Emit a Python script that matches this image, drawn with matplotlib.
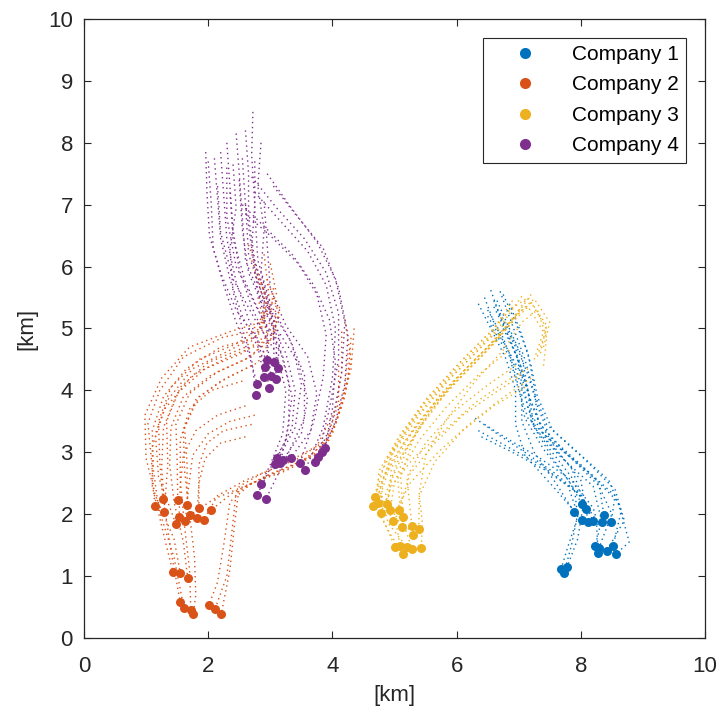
import matplotlib
matplotlib.use("Agg")
import matplotlib.pyplot as plt
from matplotlib.lines import Line2D

plt.rcParams['font.family'] = ['Liberation Sans', 'DejaVu Sans']

COMPANIES = ["Company 1", "Company 2", "Company 3", "Company 4"]
COLORS = ["#0072BD", "#D95319", "#EDB120", "#7E2F8E"]

# final positions of each vehicle [km]
C1_END_X = [7.89, 8.02, 8.08, 8.02, 8.12, 8.20, 8.34, 8.37, 8.49, 8.23, 8.29, 8.28, 8.42, 8.52, 8.57, 7.68, 7.78, 7.73]
C1_END_Y = [2.04, 2.16, 2.08, 1.91, 1.87, 1.89, 1.87, 1.99, 1.87, 1.49, 1.45, 1.37, 1.41, 1.49, 1.36, 1.11, 1.15, 1.05]

C2_END_X = [1.14, 1.27, 1.29, 1.51, 1.66, 1.85, 2.05, 1.48, 1.53, 1.63, 1.71, 1.82, 1.93,
            1.43, 1.55, 1.67, 1.55, 1.61, 1.72, 1.76, 2.01, 2.11, 2.21]
C2_END_Y = [2.13, 2.25, 2.04, 2.23, 2.15, 2.10, 2.07, 1.84, 1.95, 1.89, 1.99, 1.94, 1.91,
            1.07, 1.05, 0.97, 0.58, 0.48, 0.45, 0.39, 0.53, 0.47, 0.39]

C3_END_X = [4.69, 4.73, 4.65, 4.78, 4.88, 4.93, 5.07, 4.98, 5.14, 5.12, 5.28, 5.39, 5.30, 5.01, 5.09, 5.20, 5.28, 5.43, 5.14]
C3_END_Y = [2.28, 2.18, 2.13, 2.02, 2.16, 2.07, 2.07, 1.89, 1.95, 1.79, 1.81, 1.76, 1.66, 1.47, 1.49, 1.47, 1.44, 1.45, 1.36]

C4_END_X = [2.95, 3.06, 2.91, 3.12, 2.90, 3.01, 3.09, 2.79, 2.98, 2.77, 3.11, 3.16, 3.08, 3.20,
            3.33, 3.48, 3.56, 3.72, 3.77, 3.83, 3.88, 2.85, 2.79, 2.93]
C4_END_Y = [4.49, 4.46, 4.38, 4.36, 4.22, 4.23, 4.18, 4.10, 4.04, 3.93, 2.91, 2.83, 2.81, 2.88,
            2.91, 2.83, 2.71, 2.84, 2.92, 3.00, 3.07, 2.49, 2.31, 2.25]

# recorded waypoints of each vehicle before it reaches its final position
C1_PATHS = [
    [(6.55, 5.62), (6.70, 5.20), (6.95, 4.70), (7.05, 4.10), (7.05, 3.50), (7.25, 3.00), (7.60, 2.50)],
    [(6.45, 5.50), (6.60, 5.10), (6.85, 4.60), (7.00, 4.05), (7.10, 3.55), (7.40, 3.05), (7.80, 2.55)],
    [(6.65, 5.45), (6.85, 5.00), (7.05, 4.55), (7.15, 4.00), (7.20, 3.50), (7.50, 3.05), (7.85, 2.60)],
    [(6.35, 5.40), (6.55, 5.00), (6.80, 4.50), (6.95, 4.00), (6.95, 3.45), (7.10, 2.95), (7.55, 2.45)],
    [(6.75, 5.55), (6.95, 5.10), (7.15, 4.60), (7.25, 4.05), (7.30, 3.55), (7.60, 3.05), (8.00, 2.55)],
    [(6.30, 3.55), (6.65, 3.30), (7.10, 3.00), (7.60, 2.65), (8.00, 2.30)],
    [(6.50, 5.30), (6.75, 4.85), (6.95, 4.35), (7.10, 3.90), (7.25, 3.40), (7.65, 2.95), (8.20, 2.45)],
    [(6.60, 5.35), (6.85, 4.85), (7.05, 4.35), (7.20, 3.80), (7.40, 3.30), (7.85, 2.90), (8.30, 2.45)],
    [(6.70, 5.25), (6.95, 4.75), (7.15, 4.25), (7.30, 3.75), (7.50, 3.25), (8.00, 2.80), (8.55, 2.30)],
    [(6.45, 3.45), (6.85, 3.20), (7.35, 2.90), (7.85, 2.55), (8.20, 2.10), (8.30, 1.75)],
    [(6.60, 5.45), (6.80, 4.95), (7.00, 4.45), (7.15, 3.95), (7.35, 3.45), (7.75, 3.00), (8.25, 2.55), (8.50, 2.00)],
    [(6.40, 3.25), (6.90, 3.00), (7.45, 2.70), (7.95, 2.35), (8.25, 1.90)],
    [(6.85, 5.40), (7.05, 4.90), (7.20, 4.40), (7.30, 3.90), (7.55, 3.35), (8.05, 2.90), (8.55, 2.40), (8.70, 1.90)],
    [(6.70, 5.60), (6.90, 5.05), (7.10, 4.50), (7.25, 3.95), (7.45, 3.45), (7.95, 3.00), (8.45, 2.55), (8.65, 2.05)],
    [(6.55, 5.05), (6.85, 4.55), (7.00, 4.00), (7.15, 3.55), (7.55, 3.15), (8.10, 2.70), (8.60, 2.20), (8.78, 1.55)],
    [(6.75, 5.00), (7.00, 4.50), (7.15, 4.00), (7.25, 3.40), (7.55, 2.90), (7.90, 2.40), (7.95, 1.95), (7.80, 1.50)],
    [(6.50, 5.20), (6.80, 4.70), (7.05, 4.25), (7.15, 3.70), (7.45, 3.20), (7.85, 2.75), (8.05, 2.20), (7.95, 1.60)],
    [(6.35, 3.35), (6.80, 3.10), (7.35, 2.80), (7.80, 2.45), (7.95, 2.00), (7.85, 1.50)],
]

C2_PATHS = [
    [(2.75, 5.90), (2.95, 5.30), (2.70, 4.95), (2.24, 4.86), (1.60, 4.54), (1.22, 4.00), (1.03, 3.47), (1.09, 2.83)],
    [(2.65, 6.35), (2.90, 5.60), (2.90, 5.05), (2.45, 4.75), (1.85, 4.50), (1.40, 4.05), (1.20, 3.50), (1.22, 2.85)],
    [(3.05, 5.65), (3.00, 5.10), (2.60, 4.70), (2.00, 4.45), (1.55, 4.05), (1.33, 3.50), (1.35, 2.80)],
    [(3.10, 5.45), (3.05, 4.95), (2.70, 4.55), (2.15, 4.30), (1.70, 3.95), (1.48, 3.45), (1.50, 2.85)],
    [(2.85, 5.75), (3.10, 5.00), (2.80, 4.45), (2.30, 4.20), (1.85, 3.90), (1.62, 3.40), (1.66, 2.80)],
    [(2.70, 3.45), (2.25, 3.35), (1.98, 3.15), (1.85, 2.80), (1.85, 2.40)],
    [(4.20, 5.15), (4.30, 4.50), (4.20, 3.90), (4.00, 3.30), (3.60, 2.90), (3.00, 2.65), (2.40, 2.35)],
    [(2.70, 6.10), (2.95, 5.45), (2.80, 4.90), (2.35, 4.65), (1.75, 4.35), (1.35, 3.85), (1.15, 3.30), (1.20, 2.60)],
    [(2.60, 3.75), (2.15, 3.60), (1.80, 3.35), (1.60, 2.95), (1.55, 2.45)],
    [(2.75, 3.60), (2.35, 3.50), (2.00, 3.30), (1.75, 2.95), (1.68, 2.40)],
    [(4.30, 4.85), (4.25, 4.20), (4.10, 3.60), (3.85, 3.05), (3.30, 2.75), (2.70, 2.50), (2.10, 2.25)],
    [(2.60, 3.25), (2.20, 3.15), (1.95, 2.90), (1.85, 2.50)],
    [(4.15, 4.95), (4.15, 4.30), (4.05, 3.70), (3.75, 3.10), (3.20, 2.80), (2.60, 2.55), (2.15, 2.30)],
    [(2.95, 5.80), (3.15, 5.20), (2.85, 4.75), (2.35, 4.55), (1.75, 4.25), (1.30, 3.70), (1.10, 3.10), (1.10, 2.45), (1.30, 1.60)],
    [(3.00, 6.05), (3.10, 5.55), (2.85, 5.10), (2.35, 4.95), (1.70, 4.70), (1.25, 4.20), (0.98, 3.60), (1.00, 2.90), (1.15, 2.30), (1.45, 1.60)],
    [(3.15, 5.35), (3.05, 4.85), (2.60, 4.50), (2.05, 4.25), (1.60, 3.90), (1.40, 3.40), (1.38, 2.80), (1.45, 2.20), (1.60, 1.55)],
    [(2.80, 5.50), (2.95, 4.90), (2.55, 4.60), (1.95, 4.35), (1.50, 3.95), (1.28, 3.40), (1.25, 2.75), (1.30, 2.10), (1.40, 1.40)],
    [(2.90, 6.20), (3.00, 5.35), (2.75, 4.85), (2.20, 4.70), (1.65, 4.35), (1.28, 3.90), (1.10, 3.35), (1.12, 2.70), (1.20, 2.10), (1.45, 1.30)],
    [(2.55, 4.15), (2.05, 4.00), (1.70, 3.70), (1.55, 3.20), (1.55, 2.55), (1.62, 1.80), (1.70, 1.10)],
    [(2.70, 4.40), (2.20, 4.15), (1.80, 3.85), (1.60, 3.35), (1.62, 2.70), (1.70, 2.00), (1.78, 1.30), (1.80, 0.70)],
    [(4.25, 4.60), (4.20, 4.05), (4.05, 3.45), (3.80, 3.00), (3.25, 2.70), (2.70, 2.50), (2.35, 2.20), (2.25, 1.50), (2.15, 0.90)],
    [(4.35, 5.00), (4.30, 4.35), (4.15, 3.75), (3.95, 3.20), (3.50, 2.85), (2.90, 2.60), (2.45, 2.35), (2.38, 1.70), (2.30, 1.00)],
    [(4.10, 4.40), (4.10, 3.80), (3.90, 3.20), (3.45, 2.90), (2.85, 2.65), (2.50, 2.45), (2.42, 1.80), (2.35, 1.10)],
]

C3_PATHS = [
    [(7.05, 5.52), (6.75, 5.10), (6.30, 4.60), (5.75, 4.05), (5.25, 3.45), (4.85, 2.85)],
    [(7.30, 4.55), (7.45, 5.00), (7.20, 5.42), (6.90, 5.15), (6.45, 4.65), (5.90, 4.10), (5.35, 3.45), (4.95, 2.85)],
    [(6.90, 5.35), (6.55, 4.95), (6.05, 4.45), (5.50, 3.85), (5.05, 3.20), (4.75, 2.60)],
    [(7.15, 4.35), (6.80, 4.15), (6.30, 3.80), (5.80, 3.35), (5.30, 2.90), (4.95, 2.45)],
    [(7.20, 5.55), (6.95, 5.20), (6.55, 4.75), (6.05, 4.25), (5.55, 3.65), (5.15, 3.00), (4.95, 2.55)],
    [(7.40, 4.70), (7.50, 5.10), (7.25, 5.48), (7.00, 5.25), (6.65, 4.80), (6.15, 4.30), (5.60, 3.70), (5.20, 3.05), (5.00, 2.50)],
    [(7.05, 4.25), (6.60, 3.95), (6.10, 3.60), (5.65, 3.15), (5.25, 2.65)],
    [(6.80, 5.10), (6.40, 4.70), (5.90, 4.20), (5.40, 3.60), (4.95, 2.95), (4.75, 2.35)],
    [(7.25, 4.50), (7.40, 4.95), (7.15, 5.35), (6.85, 5.05), (6.40, 4.55), (5.85, 4.00), (5.35, 3.35), (5.10, 2.60)],
    [(7.10, 5.45), (6.85, 5.05), (6.40, 4.55), (5.90, 4.05), (5.45, 3.45), (5.05, 2.85), (4.85, 2.30)],
    [(6.95, 4.40), (6.45, 4.05), (5.95, 3.65), (5.50, 3.15), (5.20, 2.60)],
    [(7.40, 4.40), (7.45, 4.85), (7.30, 5.30), (7.05, 5.10), (6.75, 4.65), (6.30, 4.15), (5.85, 3.55), (5.50, 2.95), (5.40, 2.35)],
    [(6.70, 4.90), (6.25, 4.45), (5.75, 3.95), (5.30, 3.35), (4.95, 2.75), (4.90, 2.20)],
    [(7.00, 5.30), (6.70, 4.90), (6.20, 4.40), (5.65, 3.80), (5.15, 3.15), (4.80, 2.55), (4.80, 1.95)],
    [(7.20, 4.20), (6.70, 3.85), (6.20, 3.45), (5.70, 3.00), (5.25, 2.50), (5.00, 2.00)],
    [(7.35, 4.60), (7.45, 5.05), (7.15, 5.50), (6.85, 5.30), (6.50, 4.85), (6.00, 4.35), (5.45, 3.75), (5.00, 3.05), (4.75, 2.40), (4.90, 1.85)],
    [(6.85, 4.65), (6.35, 4.25), (5.85, 3.75), (5.40, 3.20), (5.05, 2.60), (5.10, 2.00)],
    [(7.10, 4.05), (6.60, 3.75), (6.10, 3.35), (5.65, 2.85), (5.40, 2.30), (5.45, 1.85)],
    [(6.90, 5.45), (6.60, 5.00), (6.10, 4.50), (5.60, 3.95), (5.10, 3.30), (4.75, 2.70), (4.70, 2.10), (4.95, 1.65)],
]

C4_PATHS = [
    [(2.72, 8.50), (2.70, 7.80), (2.75, 7.00), (2.70, 6.30), (2.80, 5.60), (2.95, 5.00)],
    [(2.45, 8.15), (2.50, 7.50), (2.55, 6.80), (2.60, 6.10), (2.85, 5.50), (3.05, 5.00)],
    [(1.96, 7.85), (1.98, 7.20), (2.02, 6.50), (2.20, 5.90), (2.45, 5.30), (2.80, 4.80)],
    [(2.85, 8.00), (2.80, 7.30), (2.90, 6.60), (2.85, 5.90), (3.00, 5.30), (3.15, 4.85)],
    [(2.10, 7.75), (2.15, 7.10), (2.20, 6.45), (2.35, 5.80), (2.55, 5.20), (2.80, 4.70)],
    [(2.30, 8.00), (2.35, 7.30), (2.40, 6.60), (2.50, 5.95), (2.70, 5.35), (2.95, 4.80)],
    [(2.60, 8.20), (2.65, 7.50), (2.65, 6.80), (2.75, 6.10), (2.95, 5.45), (3.10, 4.80)],
    [(2.00, 7.70), (2.05, 7.00), (2.08, 6.30), (2.25, 5.70), (2.45, 5.10), (2.65, 4.60)],
    [(2.20, 7.85), (2.25, 7.15), (2.30, 6.45), (2.45, 5.75), (2.65, 5.15), (2.90, 4.60)],
    [(2.40, 7.65), (2.45, 6.95), (2.35, 6.30), (2.40, 5.60), (2.55, 5.00), (2.70, 4.50)],
    [(2.50, 7.40), (2.55, 6.60), (2.65, 5.90), (2.95, 5.20), (3.25, 4.60), (3.40, 4.00), (3.35, 3.40)],
    [(2.30, 7.60), (2.30, 6.80), (2.45, 6.00), (2.80, 5.30), (3.15, 4.70), (3.30, 4.10), (3.30, 3.45)],
    [(2.75, 7.70), (2.75, 6.90), (2.80, 6.10), (3.00, 5.40), (3.35, 4.75), (3.50, 4.10), (3.40, 3.40)],
    [(2.60, 7.00), (2.70, 6.30), (2.85, 5.60), (3.10, 5.00), (3.45, 4.45), (3.60, 3.85), (3.50, 3.30)],
    [(2.90, 7.05), (2.95, 6.35), (3.00, 5.65), (3.25, 5.05), (3.60, 4.55), (3.75, 3.95), (3.65, 3.35)],
    [(2.60, 6.85), (3.00, 6.50), (3.45, 6.05), (3.75, 5.55), (3.90, 4.90), (3.85, 4.20), (3.70, 3.50)],
    [(2.75, 7.20), (3.15, 6.75), (3.60, 6.25), (3.90, 5.70), (4.05, 5.00), (4.00, 4.20), (3.85, 3.40)],
    [(2.95, 7.50), (3.30, 7.00), (3.75, 6.40), (4.05, 5.80), (4.20, 5.10), (4.15, 4.30), (4.00, 3.50)],
    [(2.70, 7.45), (3.10, 6.95), (3.55, 6.45), (3.90, 5.90), (4.10, 5.25), (4.10, 4.50), (3.95, 3.70)],
    [(3.05, 7.30), (3.40, 6.85), (3.85, 6.30), (4.10, 5.65), (4.25, 4.90), (4.20, 4.10), (4.05, 3.50)],
    [(2.55, 7.00), (2.90, 6.65), (3.35, 6.20), (3.70, 5.70), (3.95, 5.15), (4.05, 4.45), (4.00, 3.70)],
    [(2.15, 7.30), (2.20, 6.55), (2.40, 5.80), (2.75, 5.15), (3.10, 4.60), (3.25, 4.00), (3.20, 3.30), (3.00, 2.80)],
    [(2.35, 7.20), (2.40, 6.45), (2.60, 5.75), (2.90, 5.10), (3.20, 4.55), (3.35, 3.90), (3.25, 3.20), (2.95, 2.65)],
    [(2.55, 7.75), (2.60, 7.00), (2.65, 6.20), (2.90, 5.45), (3.30, 4.85), (3.55, 4.25), (3.55, 3.55), (3.25, 2.90)],
]

END_X = [C1_END_X, C2_END_X, C3_END_X, C4_END_X]
END_Y = [C1_END_Y, C2_END_Y, C3_END_Y, C4_END_Y]
PATHS = [C1_PATHS, C2_PATHS, C3_PATHS, C4_PATHS]

fig = plt.figure(figsize=(7.2, 7.2), dpi=100)
ax = fig.add_axes([84 / 720, 82 / 720, 621 / 720, 619 / 720])

# dotted tracks, each ending at the vehicle's final position
for paths, xs, ys, color in zip(PATHS, END_X, END_Y, COLORS):
    for path, xe, ye in zip(paths, xs, ys):
        px = [p[0] for p in path] + [xe]
        py = [p[1] for p in path] + [ye]
        ax.plot(px, py, color=color, lw=1.0, linestyle=(0, (1, 2.6)), zorder=2)

for xs, ys, color in zip(END_X, END_Y, COLORS):
    ax.plot(xs, ys, linestyle="none", marker="o", markersize=6.5,
            color=color, markeredgewidth=0, zorder=3)

ax.set_xlim(0, 10)
ax.set_ylim(0, 10)
ax.set_xticks(range(0, 11, 2))
ax.set_yticks(range(0, 11, 1))
ax.tick_params(direction="in", length=5, width=0.8, top=True, right=True,
               labelsize=16, pad=8, colors="#262626")
ax.tick_params(axis="x", pad=13)
for s in ax.spines.values():
    s.set_color("#262626")
    s.set_linewidth(0.9)

ax.set_xlabel("[km]", fontsize=16, color="#262626", labelpad=6)
ax.set_ylabel("[km]", fontsize=16, color="#262626", labelpad=8)

handles = [Line2D([], [], linestyle="none", marker="o", markersize=8,
                  color=c, markeredgewidth=0) for c in COLORS]
leg = ax.legend(handles, COMPANIES, loc="upper right", fontsize=15,
                frameon=True, fancybox=False, edgecolor="#262626",
                framealpha=1, handlelength=3.4, handletextpad=0.55,
                labelspacing=0.55, borderaxespad=0.9, borderpad=0.35)
leg.get_frame().set_linewidth(0.8)

fig.savefig("out.png", dpi=100)
